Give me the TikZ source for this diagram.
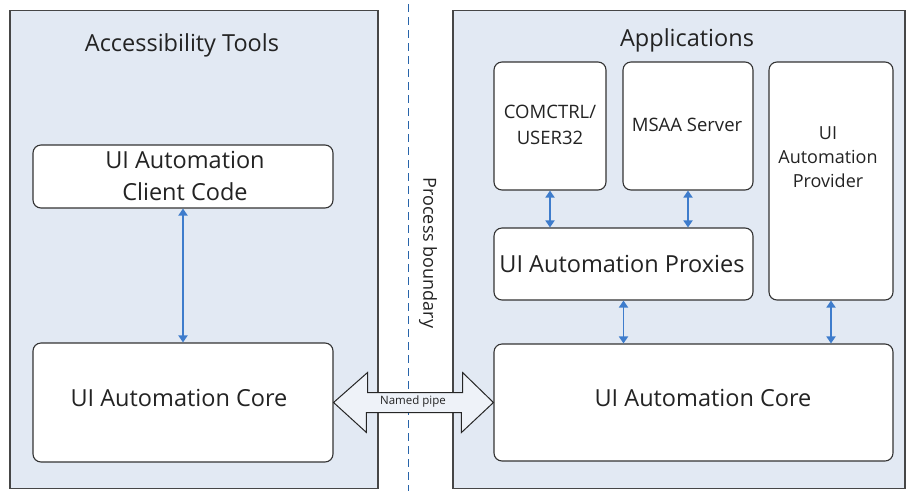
\documentclass[tikz,border=0pt]{standalone}
\usepackage{fontspec}
\setmainfont{Open Sans}
\usetikzlibrary{arrows.meta}
\definecolor{panelfill}{RGB}{226,233,243}
\definecolor{paneldraw}{RGB}{70,70,70}
\definecolor{arrowblue}{RGB}{62,124,204}
\definecolor{dashblue}{RGB}{40,100,170}
\definecolor{txt}{RGB}{35,35,35}
\begin{document}
\begin{tikzpicture}[x=1pt,y=-1pt,
  panel/.style={draw=paneldraw,line width=1.4pt,fill=panelfill},
  box/.style={draw=black!80,line width=1.1pt,fill=white,rounded corners=8pt,inner sep=0pt},
  biarrow/.style={draw=arrowblue,line width=1.8pt,{Triangle[length=7pt,width=9pt]}-{Triangle[length=7pt,width=9pt]}},
  lbl/.style={text=txt,inner sep=0pt,align=center}]
\useasboundingbox (0,0) rectangle (907,491);
\fill[white] (0,0) rectangle (907,491);
% panels
\node[panel,inner sep=0pt,minimum width=368pt,minimum height=478pt] (ltools) at (194,249.5) {};
\node[panel,inner sep=0pt,minimum width=452pt,minimum height=478pt] (apps) at (679,249.5) {};
% process boundary
\coordinate (pbtop) at (408,4);
\coordinate (pbbot) at (408,491);
\draw[dashblue,line width=1pt,dash pattern=on 8pt off 5pt] (pbtop) -- (pbbot);
\node[lbl,rotate=-90,font=\fontsize{18}{22}\selectfont] (pbl) at (428,253) {Process boundary};
% titles
\node[lbl,font=\fontsize{23.5}{28}\selectfont] (ttools) at (182,45) {Accessibility Tools};
\node[lbl,font=\fontsize{23.5}{28}\selectfont] (tapps) at (687,40) {Applications};
% left side
\node[box,minimum width=300pt,minimum height=63pt] (client) at (183,176.5) {};
\node[lbl,font=\fontsize{23.5}{32}\selectfont] (clientt) at (185,176) {UI Automation\\Client Code};
\node[box,minimum width=300pt,minimum height=119pt] (lcore) at (183,402.5) {};
\node[lbl,font=\fontsize{23.5}{28}\selectfont] (lcoret) at (179,398) {UI Automation Core};
% right side
\node[box,minimum width=112pt,minimum height=128pt] (comctrl) at (550,126) {};
\node[lbl,font=\fontsize{18.5}{26}\selectfont] (comctrlt) at (550,125) {COMCTRL/\\USER32};
\node[box,minimum width=130pt,minimum height=128pt] (msaa) at (688,126) {};
\node[lbl,font=\fontsize{18.5}{22}\selectfont] (msaat) at (687,125) {MSAA Server};
\node[box,minimum width=124pt,minimum height=238pt] (prov) at (831,181) {};
\node[lbl,font=\fontsize{18}{24}\selectfont] (provt) at (828,157) {UI\\Automation\\Provider};
\node[box,minimum width=259pt,minimum height=72pt] (prox) at (623.5,264) {};
\node[lbl,font=\fontsize{23.5}{28}\selectfont] (proxt) at (622,264) {UI Automation Proxies};
\node[box,minimum width=399pt,minimum height=117pt] (rcore) at (693.5,402.5) {};
\node[lbl,font=\fontsize{23.5}{28}\selectfont] (rcoret) at (703,398) {UI Automation Core};
% connectors
\draw[biarrow] (client.south) -- (lcore.north);
\draw[biarrow] (comctrl.south) -- (comctrl.south |- prox.north);
\draw[biarrow] (msaa.south) -- (msaa.south |- prox.north);
\draw[biarrow] (prox.south) -- (prox.south |- rcore.north);
\draw[biarrow] (prov.south) -- (prov.south |- rcore.north);
% named pipe
\draw[draw=black!85,line width=1pt,fill=panelfill!60]
  (lcore.east) -- ++(34,-30) -- ++(0,20) -- ++(95,0) -- ++(0,-20) -- (rcore.west)
  -- ++(-32,30) -- ++(0,-20) -- ++(-95,0) -- ++(0,20) -- cycle;
\node[lbl,font=\fontsize{11.5}{13}\selectfont] (pipet) at (413,402) {Named pipe};
\end{tikzpicture}
\end{document}
